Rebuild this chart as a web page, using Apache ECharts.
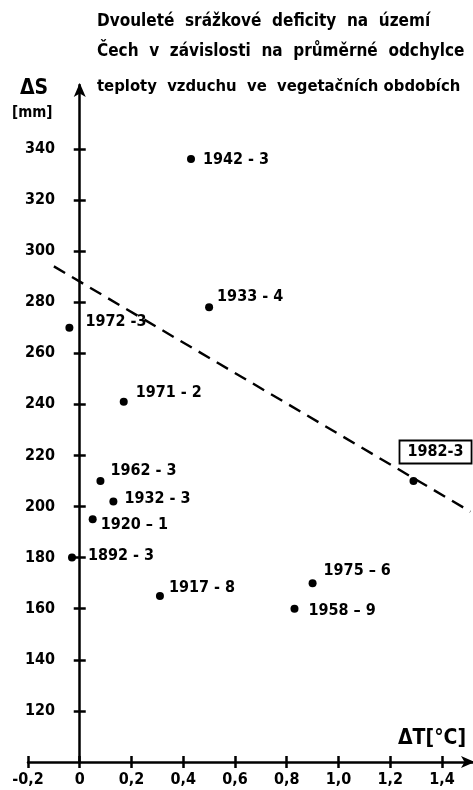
<!DOCTYPE html>
<html><head><meta charset="utf-8">
<script src="https://cdn.jsdelivr.net/npm/echarts@6/dist/echarts.min.js"></script>
<style>html,body{margin:0;padding:0;background:#fff}#c{width:473px;height:790px}</style>
</head><body><div id="c"></div>
<script>
const titleLines = ['Dvouleté  srážkové  deficity  na  území', 'Čech  v  závislosti  na  průměrné  odchylce', 'teploty  vzduchu  ve  vegetačních obdobích'];
const pointNames = ['1942 - 3','1933 - 4','1972 -3','1971 - 2','1962 - 3','1932 - 3','1920 – 1','1892 - 3','1917 - 8','1975 – 6','1958 – 9','1982-3'];
const deltaT = [0.43, 0.50, -0.04, 0.17, 0.08, 0.13, 0.05, -0.03, 0.31, 0.90, 0.83, 1.29];
const deltaS = [336, 278, 270, 241, 210, 202, 195, 180, 165, 170, 160, 210];
const trendT = [-0.10, 1.51];
const trendS = [294, 198];
const xTicks = [-0.2, 0, 0.2, 0.4, 0.6, 0.8, 1.0, 1.2, 1.4];
const yTicks = [120, 140, 160, 180, 200, 220, 240, 260, 280, 300, 320, 340];

// label layout (offsets in px), kept apart from data
const labelOffsets = [[8,1],[4,-10],[12,-6],[8,-9],[6,-10],[7,-3],[4,6],[12,-2],[5,-8],[7,-12],[10,2],[-18,-29]];
const FONT = "'DejaVu Sans Condensed', 'DejaVu Sans', sans-serif";

const chart = echarts.init(document.getElementById('c'), null, {renderer: 'canvas'});
const fmtNum = v => {
  const r = Math.round(v * 10) / 10;
  return r === 0 ? '0' : r.toFixed(1).replace('.', ',');
};
const pts = deltaT.map((t, i) => {
  const boxed = i === pointNames.length - 1;
  return {
    value: [t, deltaS[i]],
    name: pointNames[i],
    label: Object.assign({
      show: true, position: 'right', distance: 0, offset: labelOffsets[i],
      formatter: pointNames[i], color: '#000', opacity: 1, fontFamily: FONT, fontWeight: 'bold', fontSize: 16
    }, boxed ? {borderColor: '#000', borderWidth: 1.8, padding: [4, 8, 3, 8]} : {})
  };
});
const axisCommon = {
  type: 'value', splitLine: {show: false}
};
chart.setOption({
  animation: false,
  backgroundColor: '#fff',
  grid: {left: 28, right: 0, top: 85, bottom: 28, containLabel: false, outerBoundsMode: 'none'},
  xAxis: [
    Object.assign({}, axisCommon, {
      min: -0.2, max: 1.52, interval: 0.2,
      axisLine: {show: true, onZero: false, symbol: ['none', 'arrow'], symbolSize: [9, 14], symbolOffset: [0, 2], lineStyle: {color: '#000', width: 2.5}},
      axisTick: {show: true, inside: false, length: 6, customValues: xTicks, lineStyle: {color: '#000', width: 2.5}},
      axisLabel: {show: true, customValues: xTicks, formatter: fmtNum, margin: 10, color: '#000', fontFamily: FONT, fontWeight: 'bold', fontSize: 16}
    }),
    Object.assign({}, axisCommon, {
      min: -0.2, max: 1.52, interval: 0.2, position: 'bottom',
      axisLine: {show: false, onZero: false},
      axisTick: {show: true, inside: true, length: 6, customValues: xTicks, lineStyle: {color: '#000', width: 2.5}},
      axisLabel: {show: false}
    })
  ],
  yAxis: [
    Object.assign({}, axisCommon, {
      min: 100, max: 365, interval: 20,
      axisLine: {show: true, onZero: true, symbol: ['none', 'arrow'], symbolSize: [9, 14], symbolOffset: [0, 2], lineStyle: {color: '#000', width: 2.5}},
      axisTick: {show: true, inside: false, length: 6, customValues: yTicks, lineStyle: {color: '#000', width: 2.5}},
      axisLabel: {show: true, customValues: yTicks, margin: -27, color: '#000', fontFamily: FONT, fontWeight: 'bold', fontSize: 16}
    }),
    Object.assign({}, axisCommon, {
      min: 100, max: 365, interval: 20, position: 'left',
      axisLine: {show: false, onZero: true},
      axisTick: {show: true, inside: true, length: 6, customValues: yTicks, lineStyle: {color: '#000', width: 2.5}},
      axisLabel: {show: false}
    })
  ],
  series: [
    {
      type: 'line', xAxisIndex: 0, yAxisIndex: 0, symbol: 'none', silent: true,
      data: trendT.map((t, i) => [t, trendS[i]]),
      lineStyle: {color: '#000', width: 2.4, type: [13, 8]}
    },
    {
      type: 'scatter', xAxisIndex: 0, yAxisIndex: 0, symbolSize: 8,
      itemStyle: {color: '#000', opacity: 1},
      data: pts
    }
  ],
  graphic: [
    ...titleLines.map((t, i) => ({
      type: 'text', left: 97, top: [13, 43, 78][i],
      style: {text: t, fill: '#000', font: 'bold ' + [17, 17, 16.5][i] + 'px ' + FONT}
    })),
    {type: 'text', left: 20, top: 78, style: {text: 'ΔS', fill: '#000', font: 'bold 21px ' + FONT}},
    {type: 'text', left: 12, top: 106, style: {text: '[mm]', fill: '#000', font: 'bold 15px ' + FONT}},
    {type: 'text', left: 398, top: 728, style: {text: 'ΔT[°C]', fill: '#000', font: 'bold 21px ' + FONT}}
  ]
});
</script></body></html>
